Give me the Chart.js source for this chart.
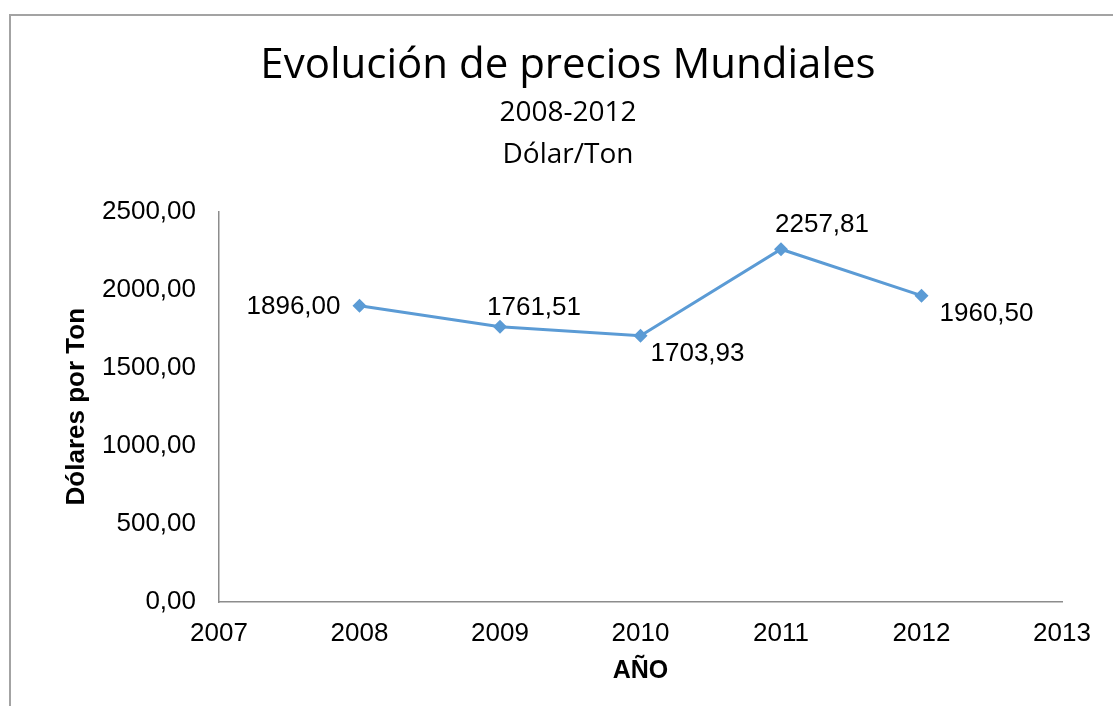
<!DOCTYPE html>
<html>
<head>
<meta charset="utf-8">
<script src="https://cdn.jsdelivr.net/npm/chart.js@4.4.1/dist/chart.umd.min.js"></script>
<style>
  html, body { margin: 0; padding: 0; background: #fff; overflow: hidden; }
  #frame { position: absolute; left: 9px; top: 14px; width: 1300px; height: 900px; border: 2px solid #a3a3a3; }
  #wrap { position: absolute; left: 0; top: 0; width: 1113px; height: 706px; }
</style>
</head>
<body>
<div id="frame"></div>
<div id="wrap"><canvas id="chartCanvas"></canvas></div>
<script>
const years = [2008, 2009, 2010, 2011, 2012];
const precios = [1896.00, 1761.51, 1703.93, 2257.81, 1960.50];
const xTicks = [2007, 2008, 2009, 2010, 2011, 2012, 2013];
const yTicks = [0, 500, 1000, 1500, 2000, 2500];

const fmt = v => v.toFixed(2).replace('.', ',');
const axisFont = { family: '"Liberation Sans", Arial, sans-serif', size: 26 };

// label placement per point: [dx, dy, align]
const labelPos = [
  [-19, 1, 'right'],
  [34, -19, 'center'],
  [10, 18, 'left'],
  [41, -24, 'center'],
  [18, 18, 'left']
];

const dataLabels = {
  id: 'dataLabels',
  afterDatasetsDraw(chart) {
    const ctx = chart.ctx;
    const meta = chart.getDatasetMeta(0);
    ctx.save();
    ctx.font = '26px "Liberation Sans", Arial, sans-serif';
    ctx.fillStyle = '#000';
    ctx.textBaseline = 'middle';
    meta.data.forEach((pt, i) => {
      const [dx, dy, align] = labelPos[i];
      ctx.textAlign = align;
      ctx.fillText(fmt(precios[i]), pt.x + dx, pt.y + dy);
    });
    ctx.restore();
  }
};

// center title blocks on the whole frame, not on the padded area
const centerTitles = {
  id: 'centerTitles',
  afterLayout(chart) {
    chart.boxes.filter(b => b.position === 'top' && !b.axis).forEach(b => {
      b.left = 0;
      b.right = 1136;
      b.width = 1136;
    });
  }
};

new Chart(document.getElementById('chartCanvas'), {
  type: 'line',
  data: {
    datasets: [{
      data: years.map((y, i) => ({ x: y, y: precios[i] })),
      borderColor: '#5B9BD5',
      backgroundColor: '#5B9BD5',
      borderWidth: 3,
      pointStyle: 'rectRot',
      pointRadius: 7,
      pointBorderWidth: 0,
      tension: 0
    }]
  },
  options: {
    responsive: true,
    maintainAspectRatio: false,
    animation: false,
    devicePixelRatio: 1,
    layout: { padding: { left: 0, right: 51, top: 0, bottom: 0 } },
    plugins: {
      legend: { display: false },
      tooltip: { enabled: false },
      title: {
        display: true,
        text: 'Evolución de precios Mundiales',
        color: '#000',
        font: { family: '"Open Sans", sans-serif', size: 42, weight: 'normal', lineHeight: 1.2 },
        padding: { top: 41, bottom: 0 }
      },
      subtitle: {
        display: true,
        text: ['2008-2012', 'Dólar/Ton'],
        color: '#000',
        font: { family: '"Open Sans", sans-serif', size: 28, weight: 'normal', lineHeight: 42 / 28 },
        padding: { top: 1, bottom: 35 }
      }
    },
    scales: {
      x: {
        type: 'linear',
        min: xTicks[0],
        max: xTicks[xTicks.length - 1],
        afterBuildTicks: s => { s.ticks = xTicks.map(v => ({ value: v })); },
        afterFit: s => { s.height = 104; },
        grid: { display: false, drawTicks: false },
        border: { display: true, color: '#8c8c8c', width: 1.5 },
        ticks: { color: '#000', font: axisFont, padding: 16, maxRotation: 0, callback: v => String(v) },
        title: {
          display: true, text: 'AÑO', color: '#000',
          font: { family: '"Liberation Sans", Arial, sans-serif', size: 25, weight: 'bold' },
          padding: { top: 0, bottom: 20 }
        }
      },
      y: {
        min: yTicks[0],
        max: yTicks[yTicks.length - 1],
        afterBuildTicks: s => { s.ticks = yTicks.map(v => ({ value: v })); },
        afterFit: s => { s.width = 219; },
        grid: { display: false, drawTicks: false },
        border: { display: true, color: '#8c8c8c', width: 1.5 },
        ticks: { color: '#000', font: axisFont, padding: 23, callback: v => fmt(v) },
        title: {
          display: true, text: 'Dólares por Ton', color: '#000',
          font: { family: '"Liberation Sans", Arial, sans-serif', size: 26, weight: 'bold' },
          padding: { top: 61, bottom: 0 }
        }
      }
    }
  },
  plugins: [dataLabels, centerTitles]
});
</script>
</body>
</html>
